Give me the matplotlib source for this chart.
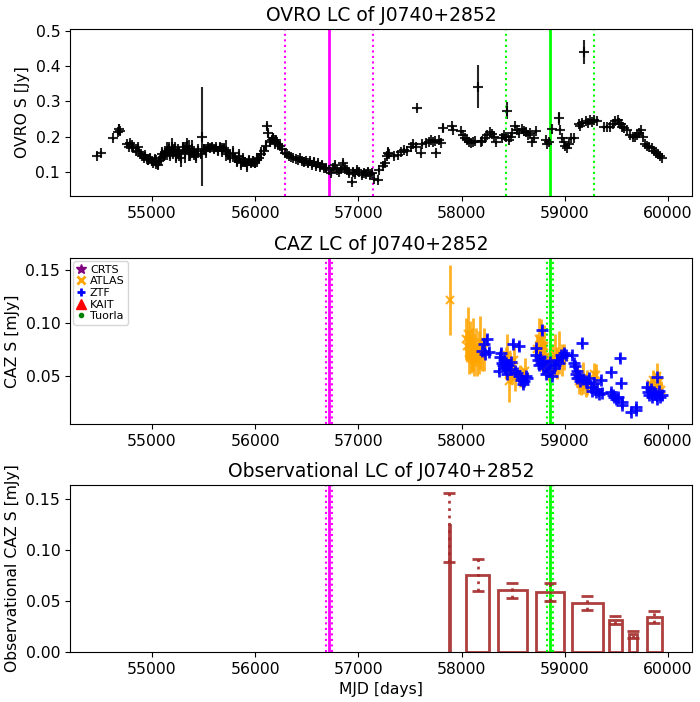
import numpy as np
import matplotlib
matplotlib.use("Agg")
import matplotlib.pyplot as plt
from matplotlib.lines import Line2D

# ---------------- data ----------------
ovro_mjd = [54464, 54506, 54620, 54668, 54679, 54690, 54760, 54775, 54790, 54805, 54820, 54845,
            54860, 54875, 54890, 54905, 54920, 54935, 54950, 54965, 54980, 54995, 55010, 55025,
            55040, 55055, 55070, 55085, 55100, 55115, 55130, 55145, 55160, 55175, 55190, 55205,
            55220, 55235, 55250, 55265, 55280, 55300, 55320, 55340, 55355, 55370, 55390, 55410,
            55430, 55450, 55470, 55480, 55500, 55520, 55540, 55560, 55580, 55600, 55620, 55640,
            55660, 55680, 55700, 55720, 55740, 55760, 55780, 55800, 55820, 55840, 55860, 55880,
            55900, 55920, 55940, 55960, 55980, 56000, 56020, 56040, 56060, 56080, 56100, 56114,
            56125, 56140, 56160, 56175, 56190, 56205, 56220, 56240, 56260, 56290, 56310, 56330,
            56350, 56370, 56390, 56410, 56430, 56450, 56470, 56490, 56510, 56530, 56550, 56570,
            56590, 56610, 56630, 56650, 56670, 56690, 56710, 56730, 56750, 56770, 56790, 56810,
            56830, 56850, 56870, 56890, 56910, 56940, 56950, 56970, 56990, 57010, 57030, 57050,
            57070, 57090, 57110, 57130, 57150, 57185, 57200, 57240, 57260, 57280, 57290, 57300,
            57345, 57380, 57410, 57440, 57475, 57505, 57530, 57555, 57570, 57603, 57620, 57650,
            57680, 57700, 57720, 57740, 57755, 57780, 57800, 57823, 57910, 57920, 57990, 58010,
            58030, 58050, 58070, 58090, 58110, 58130, 58161, 58185, 58200, 58230, 58250, 58270,
            58290, 58313, 58330, 58395, 58410, 58430, 58442, 58455, 58474, 58490, 58516, 58540,
            58560, 58580, 58600, 58620, 58640, 58660, 58680, 58700, 58720, 58813, 58830, 58850,
            58877, 58942, 58952, 58974, 58995, 59006, 59020, 59039, 59055, 59087, 59135, 59150,
            59165, 59184, 59200, 59220, 59240, 59260, 59280, 59313, 59377, 59410, 59442, 59470,
            59490, 59510, 59523, 59540, 59555, 59575, 59603, 59635, 59660, 59680, 59700, 59720,
            59740, 59760, 59780, 59800, 59820, 59840, 59860, 59880, 59900, 59920, 59942]
ovro_flux = [0.146, 0.155, 0.195, 0.212, 0.222, 0.215, 0.180, 0.172, 0.182, 0.176, 0.168, 0.160,
             0.170, 0.158, 0.152, 0.145, 0.140, 0.148, 0.137, 0.133, 0.140, 0.130, 0.126, 0.135,
             0.128, 0.120, 0.132, 0.140, 0.150, 0.145, 0.155, 0.160, 0.165, 0.150, 0.170, 0.158,
             0.165, 0.145, 0.160, 0.150, 0.140, 0.170, 0.155, 0.175, 0.160, 0.150, 0.165, 0.155,
             0.145, 0.160, 0.150, 0.200, 0.165, 0.160, 0.170, 0.168, 0.172, 0.165, 0.170, 0.160,
             0.172, 0.162, 0.168, 0.160, 0.150, 0.145, 0.155, 0.140, 0.130, 0.145, 0.125, 0.135,
             0.128, 0.120, 0.132, 0.125, 0.130, 0.125, 0.135, 0.140, 0.150, 0.160, 0.175, 0.230,
             0.210, 0.185, 0.190, 0.195, 0.185, 0.192, 0.180, 0.175, 0.165, 0.155, 0.150, 0.145,
             0.143, 0.140, 0.138, 0.135, 0.140, 0.130, 0.128, 0.132, 0.125, 0.130, 0.120, 0.128,
             0.118, 0.125, 0.115, 0.120, 0.112, 0.110, 0.105, 0.098, 0.110, 0.120, 0.105, 0.100,
             0.108, 0.125, 0.110, 0.105, 0.098, 0.072, 0.100, 0.095, 0.105, 0.100, 0.092, 0.098,
             0.095, 0.100, 0.093, 0.098, 0.080, 0.076, 0.105, 0.118, 0.125, 0.145, 0.155, 0.150,
             0.145, 0.147, 0.158, 0.162, 0.160, 0.170, 0.178, 0.172, 0.280, 0.153, 0.178, 0.183,
             0.186, 0.190, 0.185, 0.188, 0.155, 0.190, 0.183, 0.224, 0.229, 0.220, 0.215, 0.205,
             0.195, 0.190, 0.186, 0.183, 0.185, 0.188, 0.342, 0.186, 0.188, 0.195, 0.205, 0.212,
             0.208, 0.200, 0.184, 0.195, 0.205, 0.200, 0.274, 0.190, 0.200, 0.210, 0.229, 0.218,
             0.210, 0.222, 0.215, 0.212, 0.205, 0.210, 0.186, 0.195, 0.215, 0.190, 0.180, 0.185,
             0.222, 0.252, 0.220, 0.196, 0.185, 0.175, 0.168, 0.178, 0.195, 0.196, 0.235, 0.230,
             0.240, 0.440, 0.245, 0.238, 0.247, 0.242, 0.248, 0.245, 0.227, 0.228, 0.227, 0.235,
             0.245, 0.248, 0.240, 0.235, 0.228, 0.225, 0.220, 0.205, 0.198, 0.200, 0.205, 0.210,
             0.218, 0.200, 0.178, 0.175, 0.170, 0.168, 0.160, 0.155, 0.150, 0.145, 0.140]
ovro_err = [0.004, 0.004, 0.005, 0.008, 0.015, 0.010, 0.006, 0.006, 0.006, 0.008, 0.006, 0.007,
            0.010, 0.008, 0.007, 0.008, 0.010, 0.008, 0.010, 0.012, 0.010, 0.012, 0.010, 0.015,
            0.020, 0.012, 0.010, 0.020, 0.020, 0.015, 0.020, 0.025, 0.020, 0.020, 0.025, 0.020,
            0.020, 0.020, 0.020, 0.020, 0.025, 0.015, 0.030, 0.020, 0.030, 0.020, 0.025, 0.020,
            0.020, 0.020, 0.010, 0.140, 0.015, 0.020, 0.010, 0.010, 0.010, 0.012, 0.010, 0.012,
            0.010, 0.020, 0.012, 0.030, 0.015, 0.020, 0.020, 0.015, 0.015, 0.020, 0.020, 0.020,
            0.015, 0.020, 0.015, 0.012, 0.015, 0.015, 0.020, 0.015, 0.020, 0.015, 0.015, 0.010,
            0.010, 0.015, 0.012, 0.015, 0.020, 0.010, 0.012, 0.010, 0.010, 0.005, 0.005, 0.005,
            0.006, 0.006, 0.008, 0.006, 0.006, 0.008, 0.010, 0.008, 0.010, 0.010, 0.010, 0.012,
            0.010, 0.010, 0.010, 0.010, 0.008, 0.010, 0.010, 0.008, 0.008, 0.008, 0.008, 0.006,
            0.010, 0.008, 0.010, 0.008, 0.010, 0.006, 0.010, 0.010, 0.010, 0.012, 0.010, 0.010,
            0.010, 0.010, 0.008, 0.008, 0.006, 0.005, 0.005, 0.006, 0.006, 0.008, 0.015, 0.008,
            0.005, 0.005, 0.005, 0.005, 0.005, 0.005, 0.006, 0.005, 0.004, 0.004, 0.004, 0.004,
            0.004, 0.004, 0.004, 0.004, 0.004, 0.004, 0.004, 0.012, 0.004, 0.004, 0.004, 0.004,
            0.004, 0.004, 0.004, 0.004, 0.004, 0.004, 0.060, 0.004, 0.004, 0.004, 0.004, 0.004,
            0.004, 0.004, 0.004, 0.004, 0.004, 0.004, 0.025, 0.004, 0.004, 0.004, 0.004, 0.004,
            0.004, 0.004, 0.004, 0.004, 0.004, 0.004, 0.004, 0.004, 0.004, 0.004, 0.004, 0.004,
            0.004, 0.018, 0.004, 0.004, 0.004, 0.004, 0.004, 0.004, 0.004, 0.004, 0.004, 0.004,
            0.004, 0.035, 0.004, 0.004, 0.004, 0.004, 0.004, 0.004, 0.004, 0.004, 0.004, 0.004,
            0.004, 0.004, 0.004, 0.004, 0.004, 0.004, 0.004, 0.004, 0.004, 0.004, 0.004, 0.004,
            0.004, 0.004, 0.004, 0.004, 0.004, 0.004, 0.004, 0.004, 0.004, 0.004, 0.004]

atlas_mjd = [57884, 58040, 58050, 58060, 58070, 58080, 58090, 58100, 58110, 58120, 58135, 58150,
             58165, 58180, 58200, 58216, 58426, 58440, 58459, 58470, 58490, 58505, 58520, 58570,
             58590, 58610, 58733, 58745, 58766, 58780, 58795, 58810, 58830, 58850, 58879, 58900,
             58920, 58945, 58970, 58990, 59121, 59140, 59160, 59180, 59200, 59218, 59283, 59300,
             59832, 59850, 59870, 59890, 59910, 59929]
atlas_flux = [0.122, 0.085, 0.078, 0.090, 0.072, 0.082, 0.068, 0.075, 0.080, 0.070, 0.077, 0.065,
              0.072, 0.082, 0.070, 0.075, 0.062, 0.070, 0.045, 0.058, 0.052, 0.065, 0.048, 0.050,
              0.048, 0.055, 0.075, 0.085, 0.084, 0.070, 0.078, 0.068, 0.060, 0.055, 0.065, 0.070,
              0.062, 0.072, 0.065, 0.068, 0.050, 0.045, 0.042, 0.048, 0.040, 0.044, 0.052, 0.051,
              0.042, 0.046, 0.038, 0.050, 0.044, 0.037]
atlas_err = [0.033, 0.020, 0.015, 0.025, 0.020, 0.020, 0.015, 0.020, 0.025, 0.020, 0.018, 0.015,
             0.020, 0.025, 0.015, 0.020, 0.015, 0.020, 0.020, 0.015, 0.010, 0.015, 0.012, 0.010,
             0.010, 0.012, 0.015, 0.020, 0.020, 0.015, 0.020, 0.015, 0.012, 0.010, 0.015, 0.020,
             0.015, 0.020, 0.015, 0.012, 0.010, 0.012, 0.010, 0.015, 0.010, 0.012, 0.010, 0.010,
             0.008, 0.010, 0.008, 0.012, 0.010, 0.008]

ztf_mjd = [58200, 58215, 58230, 58250, 58262, 58362, 58372, 58380, 58390, 58400, 58410, 58420,
           58430, 58440, 58450, 58465, 58480, 58500, 58520, 58540, 58555, 58560, 58575, 58590,
           58605, 58620, 58637, 58717, 58725, 58735, 58745, 58755, 58770, 58782, 58790, 58800,
           58814, 58830, 58845, 58860, 58875, 58890, 58905, 58920, 58940, 58960, 58975, 58990,
           59008, 59073, 59085, 59095, 59105, 59115, 59121, 59135, 59150, 59170, 59180, 59200,
           59215, 59230, 59250, 59265, 59283, 59300, 59315, 59330, 59347, 59363, 59444, 59450,
           59465, 59480, 59495, 59510, 59531, 59541, 59550, 59557, 59638, 59687, 59690, 59800,
           59810, 59820, 59830, 59845, 59860, 59875, 59890, 59897, 59910, 59925, 59945]
ztf_flux = [0.074, 0.080, 0.071, 0.085, 0.073, 0.055, 0.068, 0.072, 0.062, 0.060, 0.065, 0.058,
            0.062, 0.052, 0.060, 0.057, 0.063, 0.080, 0.055, 0.053, 0.078, 0.050, 0.046, 0.042,
            0.045, 0.050, 0.048, 0.070, 0.076, 0.065, 0.060, 0.068, 0.062, 0.093, 0.058, 0.064,
            0.052, 0.060, 0.055, 0.063, 0.050, 0.058, 0.060, 0.065, 0.062, 0.070, 0.068, 0.072,
            0.070, 0.070, 0.062, 0.059, 0.052, 0.055, 0.048, 0.050, 0.045, 0.081, 0.047, 0.045,
            0.043, 0.048, 0.040, 0.036, 0.043, 0.035, 0.038, 0.033, 0.046, 0.034, 0.054, 0.035,
            0.032, 0.030, 0.028, 0.030, 0.067, 0.043, 0.025, 0.023, 0.016, 0.021, 0.018, 0.040,
            0.035, 0.032, 0.038, 0.030, 0.035, 0.033, 0.028, 0.049, 0.036, 0.030, 0.032]
ztf_err = [0.003, 0.003, 0.003, 0.004, 0.003, 0.003, 0.003, 0.003, 0.003, 0.003,
           0.003, 0.003, 0.003, 0.003, 0.003, 0.003, 0.003, 0.004, 0.003, 0.003, 0.004, 0.003,
           0.003, 0.003, 0.003, 0.003, 0.003, 0.003, 0.003, 0.003, 0.003, 0.003, 0.003, 0.004,
           0.003, 0.003, 0.003, 0.003, 0.003, 0.003, 0.003, 0.003, 0.003, 0.003, 0.003, 0.003,
           0.003, 0.003, 0.003, 0.003, 0.003, 0.003, 0.003, 0.003, 0.003, 0.003, 0.003, 0.004,
           0.003, 0.003, 0.003, 0.003, 0.003, 0.003, 0.003, 0.003, 0.003, 0.003, 0.003, 0.003,
           0.003, 0.003, 0.003, 0.003, 0.003, 0.003, 0.004, 0.003, 0.003, 0.003, 0.003, 0.003,
           0.003, 0.003, 0.003, 0.003, 0.003, 0.003, 0.003, 0.003, 0.003, 0.003, 0.003, 0.003,
           0.003]

# observational binned light curve
bin_left = [57873, 58046, 58350, 58718, 59073, 59431, 59624, 59799]
bin_right = [57883, 58263, 58631, 58995, 59367, 59552, 59697, 59939]
bin_flux = [0.1245, 0.0758, 0.0611, 0.0591, 0.0480, 0.0317, 0.0180, 0.0346]
bin_err_x = [57878, 58159, 58488, 58857, 59215, 59486, 59661, 59864]
bin_err_y = [0.122, 0.0756, 0.0604, 0.0590, 0.0480, 0.0316, 0.0173, 0.0345]
bin_err = [0.034, 0.0156, 0.0072, 0.0087, 0.0069, 0.0038, 0.0033, 0.0058]

# flare markers (MJD): centre and window half-widths
mag_center, mag_wide, mag_narrow = 56715, 425, 30
grn_center, grn_wide, grn_narrow = 58857, 425, 30

source = "J0740+2852"

# ---------------- plot ----------------
plt.rcParams['font.size'] = 11.25
plt.rcParams['xtick.labelsize'] = 11.25
plt.rcParams['ytick.labelsize'] = 11.25
fig = plt.figure(figsize=(7.0, 7.02), dpi=100)
L, W = 0.100, 0.8886
ax1 = fig.add_axes([L, 0.7208, W, 0.2379])
ax2 = fig.add_axes([L, 0.3960, W, 0.2365])
ax3 = fig.add_axes([L, 0.0712, W, 0.2379])

xlim = (54205, 60232)
title_fs = 13.5

# top panel
ax1.errorbar(ovro_mjd, ovro_flux, yerr=ovro_err, fmt='+', color='black', ecolor='black',
             elinewidth=1.5, markersize=7, mew=1.5, alpha=0.85)
ax1.axvline(mag_center, color='magenta', lw=2)
ax1.axvline(mag_center - mag_wide, color='magenta', lw=1.5, ls=':')
ax1.axvline(mag_center + mag_wide, color='magenta', lw=1.5, ls=':')
ax1.axvline(grn_center, color='lime', lw=2)
ax1.axvline(grn_center - grn_wide, color='lime', lw=1.5, ls=':')
ax1.axvline(grn_center + grn_wide, color='lime', lw=1.5, ls=':')
ax1.set_xlim(*xlim)
ax1.set_ylim(0.032, 0.505)
ax1.set_title("OVRO LC of " + source, fontsize=title_fs)
ax1.set_ylabel("OVRO S [Jy]")

# middle panel
ax2.errorbar(atlas_mjd, atlas_flux, yerr=atlas_err, fmt='x', color='orange', ecolor='orange',
             elinewidth=2, markersize=6, mew=1.5, alpha=0.85)
ax2.errorbar(ztf_mjd, ztf_flux, yerr=ztf_err, fmt='+', color='blue', ecolor='blue',
             elinewidth=1.5, markersize=8, mew=2, alpha=0.9)
for ax in (ax2, ax3):
    ax.axvline(mag_center, color='magenta', lw=2)
    ax.axvline(mag_center - mag_narrow, color='magenta', lw=1.5, ls=':')
    ax.axvline(mag_center + mag_narrow, color='magenta', lw=1.5, ls=':')
    ax.axvline(grn_center, color='lime', lw=2)
    ax.axvline(grn_center - grn_narrow, color='lime', lw=1.5, ls=':')
    ax.axvline(grn_center + grn_narrow, color='lime', lw=1.5, ls=':')
ax2.set_xlim(*xlim)
ax2.set_ylim(0.0047, 0.1613)
ax2.set_yticks([0.05, 0.10, 0.15])
ax2.set_title("CAZ LC of " + source, fontsize=title_fs)
ax2.set_ylabel("CAZ S [mJy]")
handles = [
    Line2D([], [], marker='*', color='purple', ls='none', markersize=7),
    Line2D([], [], marker='x', color='orange', ls='none', markersize=6, mew=2),
    Line2D([], [], marker='+', color='blue', ls='none', markersize=6, mew=2),
    Line2D([], [], marker='^', color='red', ls='none', markersize=7),
    Line2D([], [], marker='.', color='green', ls='none', markersize=6),
]
ax2.legend(handles, ["CRTS", "ATLAS", "ZTF", "KAIT", "Tuorla"], loc='upper left', fontsize=8,
           handlelength=0.8, handletextpad=0.4, borderpad=0.3, labelspacing=0.15,
           borderaxespad=0.3)

# bottom panel
widths = [r - l for l, r in zip(bin_left, bin_right)]
ax3.bar(bin_left, bin_flux, width=widths, align='edge', fill=False, edgecolor='brown',
        linewidth=2, alpha=0.9)
eb = ax3.errorbar(bin_err_x, bin_err_y, yerr=bin_err, fmt='none', ecolor='brown',
                  elinewidth=2, capsize=4, capthick=2, alpha=0.9)
for lc in eb[2]:
    lc.set_linestyle(':')
ax3.set_xlim(*xlim)
ax3.set_ylim(0, 0.164)
ax3.set_yticks([0.0, 0.05, 0.10, 0.15])
ax3.set_title("Observational LC of " + source, fontsize=title_fs)
ax3.set_ylabel("Observational CAZ S [mJy]")
ax3.set_xlabel("MJD [days]")

for ax in (ax1, ax2, ax3):
    ax.set_xticks([55000, 56000, 57000, 58000, 59000, 60000])

fig.savefig("out.png", dpi=100)
